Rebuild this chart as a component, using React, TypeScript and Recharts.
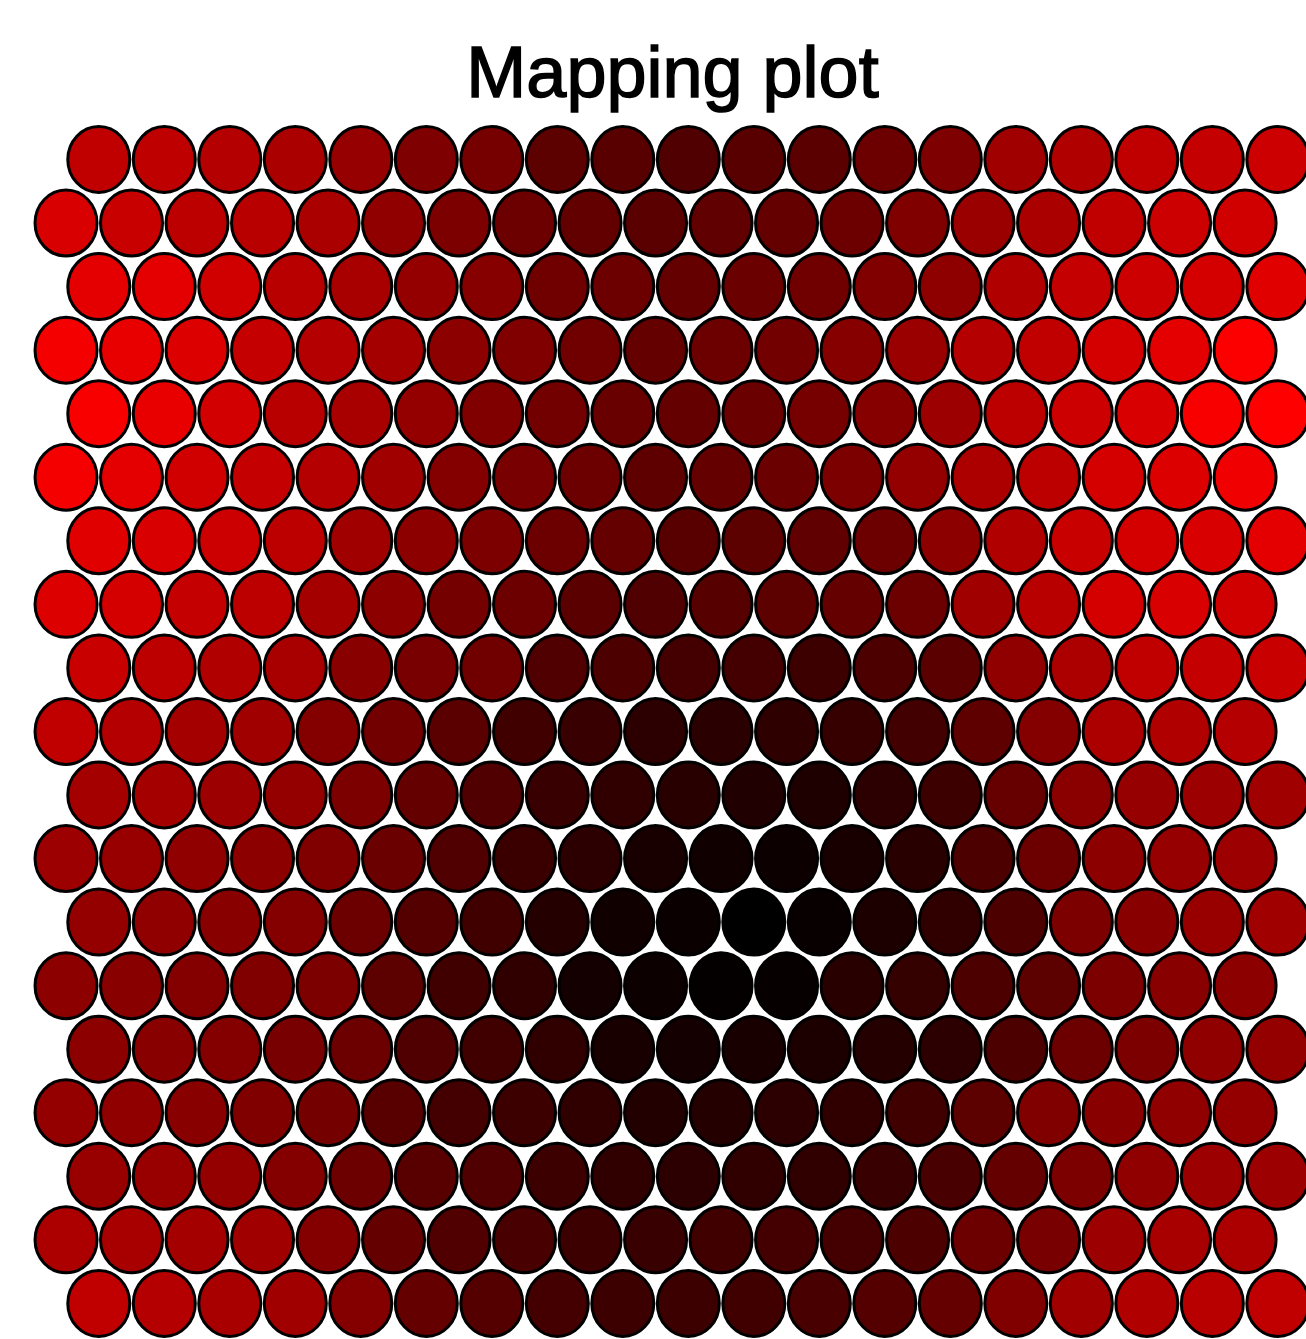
import { ScatterChart, Scatter, XAxis, YAxis } from "recharts";

// ─── Data ─────────────────────────────────────────────────────────────────────

// red channel of every map unit, top row first, left to right
const row00 = [0xc0, 0xbe, 0xb4, 0xaa, 0x96, 0x7e, 0x76, 0x5c, 0x58, 0x50, 0x58, 0x5a, 0x6c, 0x7e, 0xa0, 0xb0, 0xc0, 0xc4, 0xcc];
const row01 = [0xd8, 0xc8, 0xbc, 0xb8, 0xaa, 0x90, 0x7c, 0x6c, 0x62, 0x5a, 0x60, 0x64, 0x6c, 0x80, 0x9a, 0xaa, 0xc0, 0xcc, 0xd0];
const row02 = [0xe4, 0xe4, 0xd0, 0xb8, 0xa8, 0x94, 0x86, 0x70, 0x6c, 0x64, 0x6a, 0x70, 0x80, 0x8e, 0xb0, 0xc4, 0xcc, 0xd4, 0xe0];
const row03 = [0xf4, 0xe8, 0xdc, 0xc4, 0xb4, 0xa4, 0x8c, 0x80, 0x70, 0x64, 0x6c, 0x72, 0x86, 0x9a, 0xb4, 0xc0, 0xd4, 0xe4, 0xfc];
const row04 = [0xf8, 0xe8, 0xd2, 0xb8, 0xa8, 0x94, 0x80, 0x72, 0x68, 0x64, 0x6a, 0x76, 0x86, 0x9c, 0xbc, 0xcc, 0xd8, 0xf8, 0xff];
const row05 = [0xf4, 0xe4, 0xd0, 0xc4, 0xb4, 0xa0, 0x84, 0x78, 0x6c, 0x5e, 0x64, 0x6a, 0x7c, 0x94, 0xac, 0xbc, 0xd4, 0xdc, 0xf0];
const row06 = [0xe0, 0xd8, 0xcc, 0xbc, 0xa0, 0x8c, 0x7c, 0x6c, 0x64, 0x58, 0x5c, 0x60, 0x6c, 0x8c, 0xb0, 0xc8, 0xd4, 0xd8, 0xe4];
const row07 = [0xdc, 0xd4, 0xc4, 0xbc, 0xa4, 0x8c, 0x74, 0x6c, 0x5a, 0x50, 0x56, 0x5c, 0x64, 0x6c, 0xa0, 0xb8, 0xd4, 0xd8, 0xd0];
const row08 = [0xc8, 0xbc, 0xb0, 0xa8, 0x88, 0x78, 0x70, 0x50, 0x4c, 0x44, 0x44, 0x3c, 0x4c, 0x5a, 0x90, 0xac, 0xc0, 0xc4, 0xc8];
const row09 = [0xc0, 0xb4, 0xa4, 0xa0, 0x84, 0x72, 0x5a, 0x40, 0x38, 0x2c, 0x2a, 0x2e, 0x36, 0x42, 0x5e, 0x84, 0xac, 0xb0, 0xb4];
const row10 = [0xa4, 0xa4, 0x9c, 0x94, 0x7c, 0x64, 0x50, 0x38, 0x30, 0x28, 0x20, 0x1e, 0x2c, 0x3c, 0x66, 0x8a, 0x96, 0x9c, 0xa0];
const row11 = [0x9c, 0x98, 0x90, 0x8c, 0x80, 0x6a, 0x50, 0x3a, 0x2c, 0x18, 0x10, 0x0c, 0x18, 0x28, 0x4c, 0x6c, 0x8c, 0x96, 0x9c];
const row12 = [0x94, 0x90, 0x88, 0x84, 0x6c, 0x54, 0x40, 0x24, 0x10, 0x0a, 0x00, 0x08, 0x1c, 0x30, 0x4c, 0x7c, 0x88, 0x98, 0xa0];
const row13 = [0x8c, 0x88, 0x84, 0x80, 0x7c, 0x5c, 0x40, 0x30, 0x14, 0x0c, 0x04, 0x06, 0x28, 0x34, 0x4c, 0x5c, 0x7c, 0x88, 0x8c];
const row14 = [0x8c, 0x88, 0x84, 0x78, 0x6c, 0x50, 0x40, 0x30, 0x18, 0x14, 0x18, 0x1c, 0x24, 0x2c, 0x4c, 0x6c, 0x7c, 0x90, 0x94];
const row15 = [0x94, 0x90, 0x88, 0x80, 0x74, 0x58, 0x44, 0x3c, 0x30, 0x22, 0x24, 0x2c, 0x30, 0x40, 0x5c, 0x80, 0x88, 0x90, 0x94];
const row16 = [0x98, 0x98, 0x94, 0x84, 0x6c, 0x58, 0x50, 0x3c, 0x30, 0x2c, 0x30, 0x30, 0x38, 0x48, 0x64, 0x7c, 0x90, 0x9c, 0x9c];
const row17 = [0xac, 0xa8, 0xa4, 0xa0, 0x84, 0x64, 0x50, 0x48, 0x3c, 0x38, 0x40, 0x44, 0x44, 0x4c, 0x6c, 0x78, 0x9c, 0xa8, 0xac];
const row18 = [0xc0, 0xb4, 0xa8, 0xa0, 0x84, 0x64, 0x54, 0x44, 0x3c, 0x3c, 0x40, 0x48, 0x54, 0x64, 0x80, 0xa0, 0xb0, 0xb8, 0xc0];

const rows = [
  row00, row01, row02, row03, row04, row05, row06, row07, row08, row09,
  row10, row11, row12, row13, row14, row15, row16, row17, row18,
];

// hex grid: every other row (starting with the top one) is shifted half a unit
const units = rows.flatMap((row, r) =>
  row.map((red, c) => ({ x: c + (r % 2 === 0 ? 0.5 : 0), y: r, red }))
);

// ─── Unit shape ───────────────────────────────────────────────────────────────

function UnitShape(props: any) {
  const { cx, cy, payload } = props;
  if (cx == null || cy == null) return null;
  return (
    <ellipse
      cx={cx}
      cy={cy}
      rx={31}
      ry={33}
      fill={`rgb(${payload.red},0,0)`}
      stroke="#000"
      strokeWidth={3}
    />
  );
}

// ─── Component ────────────────────────────────────────────────────────────────

export default function App() {
  return (
    <div
      style={{
        position: "absolute",
        left: 0,
        top: 0,
        width: 1306,
        height: 1339,
        background: "#fff",
        overflow: "hidden",
      }}
    >
      <div
        style={{
          position: "absolute",
          left: 0,
          top: 36,
          width: 1345,
          textAlign: "center",
          fontFamily: "'Liberation Sans', Arial, sans-serif",
          fontSize: 72,
          lineHeight: "72px",
          color: "#000",
          WebkitTextStroke: "1.5px #000",
        }}
      >
        Mapping plot
      </div>
      <ScatterChart
        width={1306}
        height={1339}
        margin={{ top: 0, right: 0, bottom: 0, left: 0 }}
      >
        <XAxis type="number" dataKey="x" domain={[-1.008, 18.93]} hide />
        <YAxis type="number" dataKey="y" domain={[-2.51, 18.56]} reversed hide />
        <Scatter data={units} shape={UnitShape} isAnimationActive={false} />
      </ScatterChart>
    </div>
  );
}
